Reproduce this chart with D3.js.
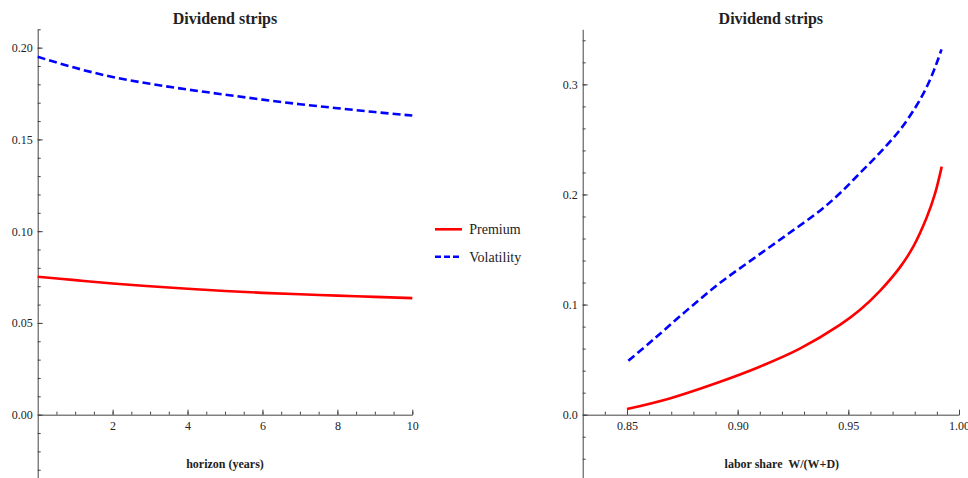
<!DOCTYPE html>
<head>
<meta charset="utf-8">
<script src="https://d3js.org/d3.v7.min.js"></script>
<style>
  body { margin: 0; background: #fff; }
  text { font-family: "Liberation Serif", "Times New Roman", serif; fill: #222; }
  .title { font-weight: bold; font-size: 16px; }
  .xlab { font-weight: bold; font-size: 12px; white-space: pre; }
  .tick text { font-size: 12px; font-family: "Liberation Serif", serif; fill: #222; }
  .legend text { font-size: 14px; }
</style>
</head>
<body>
<div id="my_dataviz"></div>

<script>
    // left panel: strips by horizon
    var horizon = [0, 1, 2, 3, 4, 5, 6, 7, 8, 9, 10];
    var premiumH = [0.0752, 0.0733, 0.0715, 0.0700, 0.0686, 0.0674, 0.0664, 0.0656, 0.0649, 0.0642, 0.0635];
    var volH = [0.1950, 0.1890, 0.1840, 0.1803, 0.1772, 0.1744, 0.1717, 0.1692, 0.1670, 0.1649, 0.1630];

    // right panel: strips by labor share
    var shareP = [0.85, 0.8693, 0.8905, 0.91, 0.9281, 0.9462, 0.9552, 0.9643, 0.9733, 0.9794, 0.9854, 0.9892, 0.9922];
    var premiumS = [0.0051, 0.0148, 0.0288, 0.0436, 0.0600, 0.0815, 0.0950, 0.1125, 0.1338, 0.1528, 0.1790, 0.2010, 0.2253];
    var shareV = [0.8506, 0.8618, 0.8769, 0.8919, 0.907, 0.9221, 0.9372, 0.9462, 0.9552, 0.9643, 0.9733, 0.9809, 0.9861, 0.9899, 0.9921];
    var volS = [0.0490, 0.0680, 0.0945, 0.1195, 0.1415, 0.1632, 0.1853, 0.2011, 0.2193, 0.2380, 0.2586, 0.2810, 0.3005, 0.3192, 0.3318];

    var titleText = "Dividend strips";
    var legendNames = ["Premium", "Volatility"];
    var xTicksL = [2, 4, 6, 8, 10];
    var yTicksL = [0, 0.05, 0.10, 0.15, 0.20];
    var xTicksR = [0.85, 0.90, 0.95, 1.00];
    var yTicksR = [0, 0.1, 0.2, 0.3];

    var W = 968, H = 478;
    var axisColor = "#444";
    var red = "#ff0000", blue = "#0000ff";

    var svg = d3.select("#my_dataviz")
      .append("svg")
        .attr("width", W)
        .attr("height", H);

    function panel(opt) {
        var g = svg.append("g");
        var x = d3.scaleLinear().domain(opt.xDomain).range(opt.xRange);
        var y = d3.scaleLinear().domain(opt.yDomain).range([H, 29.3]);

        // minor ticks
        g.append("g")
          .attr("transform", "translate(0," + y(0) + ")")
          .call(d3.axisBottom(x).tickValues(opt.xMinor).tickSizeInner(-3).tickSizeOuter(0).tickFormat(""))
          .call(s => s.select(".domain").remove());
        g.append("g")
          .attr("transform", "translate(" + x.range()[0] + ",0)")
          .call(d3.axisLeft(y).tickValues(opt.yMinor).tickSizeInner(-3).tickSizeOuter(0).tickFormat(""))
          .call(s => s.select(".domain").remove());

        // major ticks + domain
        g.append("g")
          .attr("transform", "translate(0," + y(0) + ")")
          .call(d3.axisBottom(x).tickValues(opt.xTicks).tickSizeInner(-5).tickSizeOuter(0)
                .tickPadding(7).tickFormat(opt.xFmt));
        g.append("g")
          .attr("transform", "translate(" + x.range()[0] + ",0)")
          .call(d3.axisLeft(y).tickValues(opt.yTicks).tickSizeInner(-5).tickSizeOuter(0)
                .tickPadding(5).tickFormat(opt.yFmt));
        g.selectAll(".domain, .tick line").attr("stroke", axisColor).attr("stroke-width", 1);

        // curves
        var line = d3.line().curve(d3.curveCatmullRom.alpha(0.5))
            .x(d => x(d[0])).y(d => y(d[1]));
        g.append("path")
          .datum(d3.zip(opt.px, opt.py))
          .attr("fill", "none")
          .attr("stroke", red)
          .attr("stroke-width", 2.6)
          .attr("d", line);
        g.append("path")
          .datum(d3.zip(opt.vx, opt.vy))
          .attr("fill", "none")
          .attr("stroke", blue)
          .attr("stroke-width", 2.6)
          .attr("stroke-dasharray", "8,4")
          .attr("d", line);

        var cx = (x.range()[0] + x.range()[1]) / 2;
        g.append("text").attr("class", "title")
          .attr("x", cx).attr("y", 23.5)
          .attr("text-anchor", "middle")
          .text(titleText);
        g.append("text").attr("class", "xlab")
          .attr("x", cx + opt.labShift).attr("y", 467.5)
          .attr("text-anchor", "middle")
          .text(opt.xLabel);
    }

    panel({
        xDomain: [0, 10], xRange: [37.7, 412.3],
        yDomain: [-0.0345, 0.21],
        xTicks: xTicksL, yTicks: yTicksL,
        xMinor: d3.range(1, 21).map(d => d / 2),
        yMinor: d3.range(-3, 22).map(d => d / 100),
        xFmt: d3.format("d"), yFmt: d3.format(".2f"),
        px: horizon, py: premiumH, vx: horizon, vy: volH,
        xLabel: "horizon (years)", labShift: 0
    });

    panel({
        xDomain: [0.83, 1.0], xRange: [582.7, 959],
        yDomain: [-0.0575, 0.35],
        xTicks: xTicksR, yTicks: yTicksR,
        xMinor: d3.range(84, 101).map(d => d / 100),
        yMinor: d3.range(-2, 18).map(d => d / 50),
        xFmt: d3.format(".2f"), yFmt: d3.format(".1f"),
        px: shareP, py: premiumS, vx: shareV, vy: volS,
        xLabel: "labor share  W/(W+D)", labShift: 11
    });

    // legend
    var lg = svg.append("g").attr("class", "legend");
    legendNames.forEach(function(name, i) {
        var ly = 229.3 + i * 27.4;
        lg.append("line")
          .attr("x1", 435).attr("x2", 462)
          .attr("y1", ly).attr("y2", ly)
          .attr("stroke", i == 0 ? red : blue)
          .attr("stroke-width", 2.6)
          .attr("stroke-dasharray", i == 0 ? null : "6,3");
        lg.append("text")
          .attr("x", 469.3).attr("y", ly + 5)
          .text(name);
    });
</script>
</body>
